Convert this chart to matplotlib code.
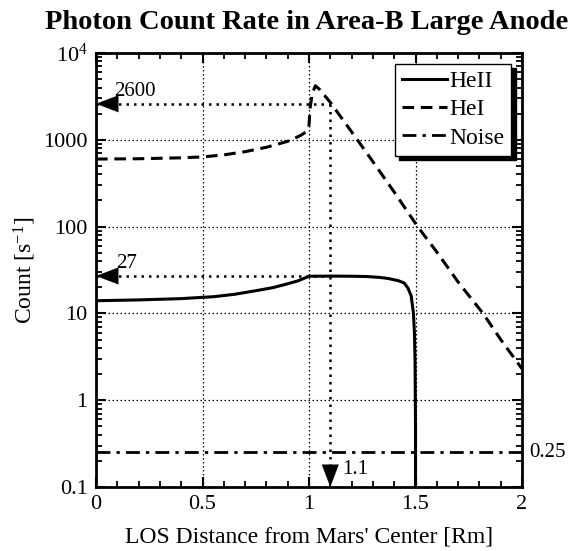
import numpy as np
import matplotlib
matplotlib.use("Agg")
import matplotlib.pyplot as plt
from matplotlib.ticker import FixedLocator, FixedFormatter, LogLocator, MultipleLocator, NullFormatter

plt.rcParams['font.family'] = ['Liberation Serif', 'DejaVu Serif']
plt.rcParams['mathtext.fontset'] = 'custom'
plt.rcParams['mathtext.rm'] = 'Liberation Serif'
plt.rcParams['mathtext.it'] = 'Liberation Serif:italic'

# HeII (solid)
heii_x = [0.0, 0.2, 0.4, 0.556, 0.65, 0.753, 0.83, 0.89, 0.95, 1.0, 1.1, 1.2, 1.27, 1.33, 1.37, 1.42, 1.447, 1.465, 1.48, 1.49, 1.495, 1.498, 1.5, 1.5]
heii_y = [14.0, 14.3, 14.8, 15.6, 16.6, 18.3, 19.8, 21.6, 23.8, 26.8, 26.9, 26.8, 26.6, 26.0, 25.3, 23.8, 22.4, 19.5, 15.8, 10.2, 6.0, 2.7, 0.5, 0.05]
# HeI (dashed)
hei_x = [0.0, 0.2, 0.4, 0.5, 0.6, 0.7, 0.8, 0.9, 0.96, 0.99, 1.0, 1.005, 1.015, 1.03, 1.05, 1.1, 1.227, 1.3, 1.4, 1.51, 1.6, 1.7, 1.817, 1.9, 2.0]
hei_y = [600, 605, 620, 635, 670, 730, 820, 960, 1120, 1250, 1450, 2300, 3400, 4200, 3800, 2700, 1000, 560, 250, 100, 51, 23, 10, 5.0, 2.3]
# Noise level
noise_x = [0.0, 2.0]
noise_y = [0.25, 0.25]

# annotation values
ann_hei = 2600
ann_heii = 27
ann_x = 1.1
ann_noise = 0.25

fig = plt.figure(figsize=(5.73, 5.51), dpi=100)
ax = fig.add_axes([96/573, 1 - 487/551, (522-96)/573, (487-53)/551])

ax.plot(heii_x, heii_y, color='k', lw=2.2, ls='-', label='HeII', solid_joinstyle='round')
ax.plot(hei_x, hei_y, color='k', lw=2.2, ls=(0, (3.8, 2.2)), label='HeI')
ax.plot(noise_x, noise_y, color='k', lw=2.0, ls=(0, (5, 2.2, 1.2, 2.2)), label='Noise')

ax.set_yscale('log')
ax.set_xlim(0, 2)
ax.set_ylim(0.1, 1e4)

# grid
ax.grid(True, which='major', ls=(0, (1.2, 2.0)), lw=0.9, color='k')

# annotation lines (thicker dots)
dot = (0, (1.0, 2.0))
ax.plot([0, ann_x], [ann_hei, ann_hei], color='k', lw=1.8, ls=dot)
ax.plot([0, ann_x], [ann_heii, ann_heii], color='k', lw=1.8, ls=dot)
ax.plot([ann_x, ann_x], [ann_hei, 0.1], color='k', lw=1.8, ls=dot)

hs = dict(arrowstyle='-|>,head_length=1.0,head_width=0.38', color='k', lw=0.1,
          mutation_scale=16, shrinkA=0, shrinkB=0)
ax.annotate('', xy=(0, ann_hei), xytext=(0.075, ann_hei), arrowprops=hs, annotation_clip=False)
ax.annotate('', xy=(0, ann_heii), xytext=(0.075, ann_heii), arrowprops=hs, annotation_clip=False)
ax.annotate('', xy=(ann_x, 0.1), xytext=(ann_x, 0.1 * 10**0.22), arrowprops=hs, annotation_clip=False)

ax.text(0.085, ann_hei * 1.08, '2600', fontsize=15, ha='left', va='bottom')
ax.text(0.095, ann_heii * 1.08, '27', fontsize=15, ha='left', va='bottom')
ax.text(ann_x + 0.055, 0.158, '1.1', fontsize=15, ha='left', va='center')
ax.text(2.035, ann_noise, '0.25', fontsize=15, ha='left', va='center', clip_on=False)

# ticks
ax.xaxis.set_major_locator(FixedLocator([0, 0.5, 1, 1.5, 2]))
ax.xaxis.set_major_formatter(FixedFormatter(['0', '0.5', '1', '1.5', '2']))
ax.xaxis.set_minor_locator(MultipleLocator(0.1))
yt = [0.1, 1, 10, 100, 1000, 10000]
ytl = ['0.1', '1', '10', '100', '1000', r'$10^4$']
ax.yaxis.set_major_locator(FixedLocator(yt))
ax.yaxis.set_major_formatter(FixedFormatter(ytl))
ax.yaxis.set_minor_locator(LogLocator(base=10, subs=np.arange(2, 10), numticks=20))
ax.yaxis.set_minor_formatter(NullFormatter())
ax.tick_params(which='both', direction='in', top=True, right=True, labelsize=16, color='k')
ax.tick_params(which='major', length=7, width=1.5, pad=6)
ax.tick_params(which='minor', length=4, width=1.3)
for s in ax.spines.values():
    s.set_linewidth(2.0)

ax.set_xlabel("LOS Distance from Mars' Center [Rm]", fontsize=17, labelpad=9)
ax.set_ylabel(r"Count [s$^{\mathregular{-1}}$]", fontsize=17, labelpad=4)
fig.suptitle('Photon Count Rate in Area-B Large Anode', fontsize=20.5, fontweight='bold', x=0.535, y=0.982)

leg = ax.legend(loc='upper right', fontsize=17, frameon=True, fancybox=False,
                shadow={'color': 'k', 'ox': 3, 'oy': -3, 'alpha': 1},
                borderaxespad=0.45, handlelength=1.9, handletextpad=0.1,
                labelspacing=0.28, borderpad=0.3)
leg.get_frame().set_edgecolor('k')
leg.get_frame().set_linewidth(1.0)
leg.get_frame().set_alpha(1)

fig.savefig('out.png', dpi=100)
